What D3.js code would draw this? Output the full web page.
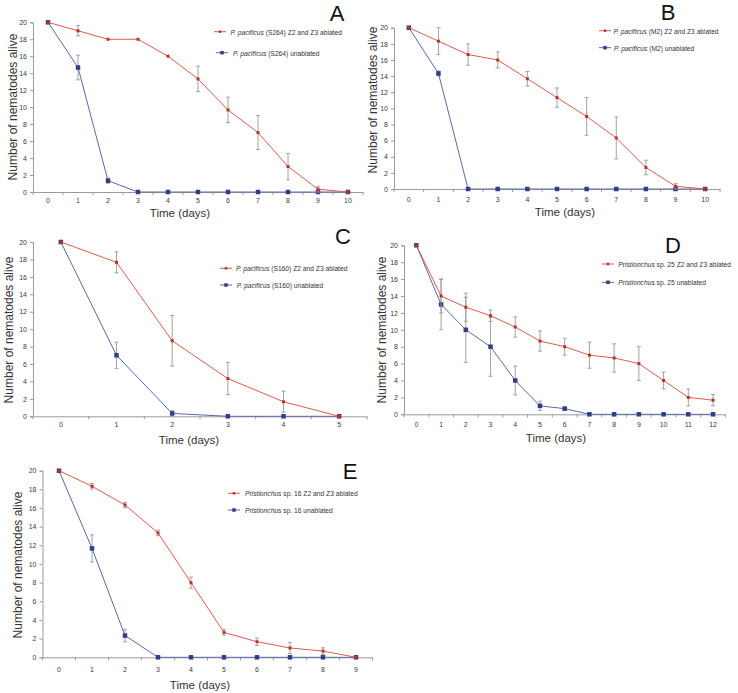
<!DOCTYPE html>
<html>
<head>
<meta charset="utf-8">
<script src="https://cdn.jsdelivr.net/npm/d3@7"></script>
<style>
  html, body { margin: 0; padding: 0; background: #fff; }
  svg { display: block; font-family: "Liberation Sans", Arial, sans-serif; }
</style>
</head>
<body>
<svg id="chart" width="738" height="693"></svg>
<script>
// ---------- DATA ----------
const yTicks = [0, 2, 4, 6, 8, 10, 12, 14, 16, 18, 20];

const daysA = [0, 1, 2, 3, 4, 5, 6, 7, 8, 9, 10];
const ablatedA = [20, 19, 18, 18, 16, 13.33, 9.67, 7, 3, 0.33, 0];
const ablatedErrA = [0, 0.6, 0, 0, 0, 1.5, 1.5, 2, 1.55, 0.33, 0];
const unablatedA = [20, 14.67, 1.33, 0, 0, 0, 0, 0, 0, 0, 0];
const unablatedErrA = [0, 1.45, 0.3, 0, 0, 0, 0, 0, 0, 0, 0];

const daysB = [0, 1, 2, 3, 4, 5, 6, 7, 8, 9, 10];
const ablatedB = [20, 18.33, 16.67, 16, 13.67, 11.33, 9, 6.33, 2.67, 0.33, 0];
const ablatedErrB = [0, 1.67, 1.33, 1, 0.9, 1.2, 2.33, 2.6, 0.9, 0.33, 0];
const unablatedB = [20, 14.33, 0, 0, 0, 0, 0, 0, 0, 0, 0];
const unablatedErrB = [0, 0.3, 0, 0, 0, 0, 0, 0, 0, 0, 0];

const daysC = [0, 1, 2, 3, 4, 5];
const ablatedC = [20, 17.67, 8.67, 4.33, 1.67, 0];
const ablatedErrC = [0, 1.2, 2.9, 1.85, 1.2, 0];
const unablatedC = [20, 7, 0.33, 0, 0, 0];
const unablatedErrC = [0, 1.5, 0.3, 0, 0, 0];

const daysD = [0, 1, 2, 3, 4, 5, 6, 7, 8, 9, 10, 11, 12];
const ablatedD = [20, 14, 12.67, 11.67, 10.33, 8.67, 8, 7, 6.67, 6, 4, 2, 1.67];
const ablatedErrD = [0, 2, 1.67, 0.67, 1.2, 1.2, 1, 1.55, 1.67, 2, 1, 1, 0.67];
const unablatedD = [20, 13, 10, 8, 4, 1, 0.67, 0, 0, 0, 0, 0, 0];
const unablatedErrD = [0, 3, 3.85, 3.5, 1.7, 0.55, 0.2, 0, 0, 0, 0, 0, 0];

const daysE = [0, 1, 2, 3, 4, 5, 6, 7, 8, 9];
const ablatedE = [20, 18.33, 16.33, 13.33, 8, 2.67, 1.67, 1, 0.67, 0];
const ablatedErrE = [0, 0.3, 0.3, 0.3, 0.6, 0.3, 0.4, 0.6, 0.35, 0];
const unablatedE = [20, 11.67, 2.33, 0, 0, 0, 0, 0, 0, 0];
const unablatedErrE = [0, 1.45, 0.67, 0, 0, 0, 0, 0, 0, 0];

const yTitle = "Number of nematodes alive";
const xTitle = "Time (days)";

// ---------- STYLE ----------
const RED_LINE = "#de5a50", RED_MARK = "#c0302a";
const BLUE_LINE = "#5a68a8", BLUE_MARK = "#2f3d8a";
const AXIS = "#9a9a9a", ERR = "#999999", TXT = "#3a3a3a";

const svg = d3.select("#chart");

function panel(cfg) {
  const g = svg.append("g");
  const x = d3.scaleBand().domain(cfg.days).range([cfg.x0, cfg.x1]);
  const cx = d => x(d) + x.bandwidth() / 2;
  const y = d3.scaleLinear().domain([0, 20]).range([cfg.y0, cfg.y1]);

  // axes
  const yAxis = d3.axisLeft(y).tickValues(yTicks).tickSize(3).tickPadding(3);
  const ya = g.append("g").attr("transform", `translate(${cfg.x0},0)`).call(yAxis);
  ya.select(".domain").attr("stroke", AXIS);
  ya.selectAll(".tick line").attr("stroke", AXIS);
  ya.selectAll("text").attr("fill", TXT).attr("font-size", 7).attr("font-family", "Liberation Sans, Arial");

  const xa = g.append("g").attr("transform", `translate(0,${cfg.y0})`)
    .call(d3.axisBottom(x).tickSize(0).tickPadding(cfg.tickPad));
  xa.select(".domain").attr("stroke", AXIS);
  xa.selectAll("text").attr("fill", TXT).attr("font-size", 7).attr("font-family", "Liberation Sans, Arial");
  // tick marks between categories
  g.append("g").selectAll("line").data(cfg.days.concat([null])).join("line")
    .attr("x1", (d, i) => i < cfg.days.length ? x(d) : cfg.x1)
    .attr("x2", (d, i) => i < cfg.days.length ? x(d) : cfg.x1)
    .attr("y1", cfg.y0).attr("y2", cfg.y0 + 3)
    .attr("stroke", AXIS);

  // titles
  g.append("text").attr("transform", `translate(${cfg.ytx},${cfg.yty}) rotate(-90)`)
    .attr("text-anchor", "middle").attr("dominant-baseline", "central")
    .attr("font-size", 12).attr("font-weight", "normal").attr("fill", "#333").text(yTitle);
  g.append("text").attr("x", cfg.xtx).attr("y", cfg.xty)
    .attr("text-anchor", "middle").attr("dominant-baseline", "central")
    .attr("font-size", 11.5).attr("font-weight", "normal").attr("fill", "#333").text(xTitle);
  g.append("text").attr("x", cfg.lx).attr("y", cfg.ly)
    .attr("text-anchor", "middle").attr("dominant-baseline", "central")
    .attr("font-size", 22).attr("fill", "#111").text(cfg.letter);

  const line = d3.line().x((d, i) => cx(cfg.days[i])).y(d => y(d));

  function series(vals, errs, lineCol, markCol, ms) {
    // error bars
    const eb = g.append("g");
    cfg.days.forEach((d, i) => {
      if (errs[i] <= 0) return;
      const lo = Math.max(0, vals[i] - errs[i]), hi = vals[i] + errs[i];
      eb.append("line").attr("x1", cx(d)).attr("x2", cx(d)).attr("y1", y(lo)).attr("y2", y(hi))
        .attr("stroke", ERR).attr("stroke-width", 0.9);
      [lo, hi].forEach(v => eb.append("line").attr("x1", cx(d) - 2).attr("x2", cx(d) + 2)
        .attr("y1", y(v)).attr("y2", y(v)).attr("stroke", ERR).attr("stroke-width", 0.9));
    });
    g.append("path").datum(vals).attr("d", line).attr("fill", "none")
      .attr("stroke", lineCol).attr("stroke-width", 1);
    g.append("g").selectAll("rect").data(vals).join("rect")
      .attr("x", (d, i) => cx(cfg.days[i]) - ms / 2).attr("y", d => y(d) - ms / 2)
      .attr("width", ms).attr("height", ms).attr("fill", markCol);
  }
  series(cfg.unablated, cfg.unablatedErr, BLUE_LINE, BLUE_MARK, 4.5);
  series(cfg.ablated, cfg.ablatedErr, RED_LINE, RED_MARK, 3);

  // legend
  const leg = [
    { lx: cfg.legRx, tx: cfg.legRt, y: cfg.legRy, col: RED_LINE, mc: RED_MARK, ms: 2.5, it: cfg.sp, rest: cfg.strain + " Z2 and Z3 ablated" },
    { lx: cfg.legBx, tx: cfg.legBt, y: cfg.legBy, col: BLUE_LINE, mc: BLUE_MARK, ms: 3.5, it: cfg.sp, rest: cfg.strain + " unablated" }
  ];
  leg.forEach(l => {
    g.append("line").attr("x1", l.lx).attr("x2", l.lx + 12).attr("y1", l.y).attr("y2", l.y)
      .attr("stroke", l.col).attr("stroke-width", 1);
    g.append("rect").attr("x", l.lx + 6 - l.ms / 2).attr("y", l.y - l.ms / 2)
      .attr("width", l.ms).attr("height", l.ms).attr("fill", l.mc);
    const t = g.append("text").attr("x", l.tx).attr("y", l.y).attr("dominant-baseline", "central")
      .attr("font-size", 6.7).attr("fill", "#333");
    t.append("tspan").attr("font-style", "italic").text(l.it);
    t.append("tspan").text(l.rest);
  });
}

panel({ letter: "A", days: daysA, ablated: ablatedA, ablatedErr: ablatedErrA, unablated: unablatedA, unablatedErr: unablatedErrA,
  x0: 33, x1: 363, y0: 192, y1: 22.3, tickPad: 6,
  ytx: 13, yty: 107, xtx: 180, xty: 213, lx: 337, ly: 13,
  sp: "P. pacificus", strain: " (S264)",
  legRx: 214, legRt: 230.5, legRy: 31.7, legBx: 216, legBt: 233, legBy: 52.7 });

panel({ letter: "B", days: daysB, ablated: ablatedB, ablatedErr: ablatedErrB, unablated: unablatedB, unablatedErr: unablatedErrB,
  x0: 394, x1: 720, y0: 189, y1: 27.7, tickPad: 8,
  ytx: 373, yty: 100, xtx: 565, xty: 211.7, lx: 668, ly: 12,
  sp: "P. pacificus", strain: " (M2)",
  legRx: 599, legRt: 613.5, legRy: 30.7, legBx: 599, legBt: 614, legBy: 47.7 });

panel({ letter: "C", days: daysC, ablated: ablatedC, ablatedErr: ablatedErrC, unablated: unablatedC, unablatedErr: unablatedErrC,
  x0: 33, x1: 367, y0: 416.3, y1: 242, tickPad: 6,
  ytx: 8.5, yty: 330, xtx: 189, xty: 440, lx: 343, ly: 236.7,
  sp: "P. pacificus", strain: " (S160)",
  legRx: 220, legRt: 236, legRy: 268.3, legBx: 220, legBt: 236.7, legBy: 285 });

panel({ letter: "D", days: daysD, ablated: ablatedD, ablatedErr: ablatedErrD, unablated: unablatedD, unablatedErr: unablatedErrD,
  x0: 404, x1: 725.4, y0: 414.3, y1: 245.3, tickPad: 8,
  ytx: 382, yty: 330, xtx: 556, xty: 438.3, lx: 673, ly: 245,
  sp: "Pristionchus", strain: " sp. 25",
  legRx: 602, legRt: 618.3, legRy: 264, legBx: 602, legBt: 618.3, legBy: 282.3 });

panel({ letter: "E", days: daysE, ablated: ablatedE, ablatedErr: ablatedErrE, unablated: unablatedE, unablatedErr: unablatedErrE,
  x0: 42.5, x1: 372.5, y0: 657.3, y1: 470.7, tickPad: 10,
  ytx: 18.3, yty: 565, xtx: 200, xty: 685, lx: 350, ly: 471.7,
  sp: "Pristionchus", strain: " sp. 16",
  legRx: 228, legRt: 245, legRy: 493.3, legBx: 228, legBt: 245, legBy: 510 });
</script>
</body>
</html>
